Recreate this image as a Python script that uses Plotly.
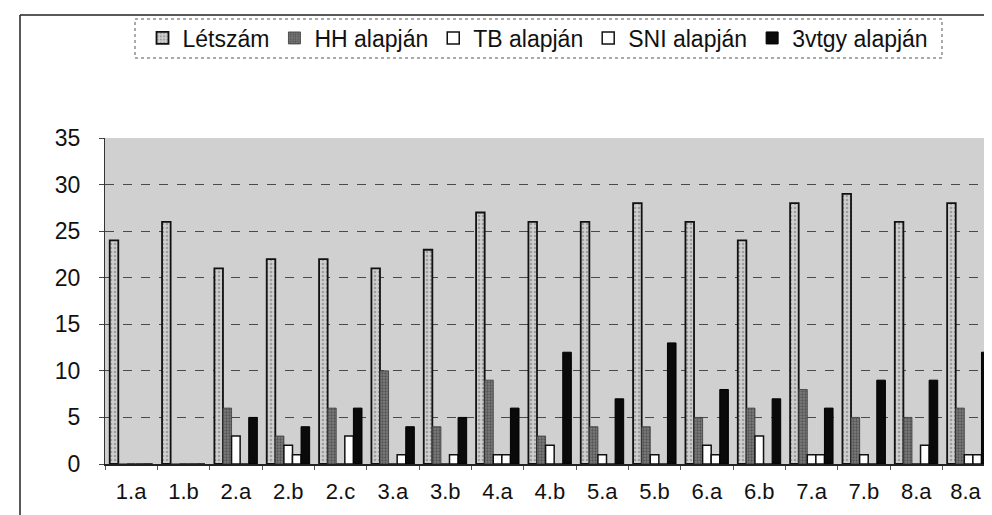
import plotly.graph_objects as go

categories = ["1.a", "1.b", "2.a", "2.b", "2.c", "3.a", "3.b", "4.a", "4.b",
              "5.a", "5.b", "6.a", "6.b", "7.a", "7.b", "8.a", "8.a "]
letszam = [24, 26, 21, 22, 22, 21, 23, 27, 26, 26, 28, 26, 24, 28, 29, 26, 28]
hh      = [0, 0, 6, 3, 6, 10, 4, 9, 3, 4, 4, 5, 6, 8, 5, 5, 6]
tb      = [0, 0, 3, 2, 0, 0, 0, 1, 2, 1, 1, 2, 3, 1, 1, 0, 1]
sni     = [0, 0, 0, 1, 3, 1, 1, 1, 0, 0, 0, 1, 0, 1, 0, 2, 1]
vtgy    = [0, 0, 5, 4, 6, 4, 5, 6, 12, 7, 13, 8, 7, 6, 9, 9, 12]
y_ticks = [0, 5, 10, 15, 20, 25, 30, 35]

FONT = "Liberation Sans, Arial, sans-serif"

fig = go.Figure()
fig.add_trace(go.Bar(name="Létszám", x=categories, y=letszam,
                     marker=dict(color="#bdbdbd", line=dict(color="#111111", width=1.8),
                                 pattern=dict(shape=".", fgcolor="#6f6f6f", bgcolor="#cfcfcf",
                                              size=4, solidity=0.35))))
fig.add_trace(go.Bar(name="HH alapján", x=categories, y=hh,
                     marker=dict(color="#5e5e5e", line=dict(color="#3a3a3a", width=0.8),
                                 pattern=dict(shape=".", fgcolor="#2a2a2a", bgcolor="#7c7c7c",
                                              size=3, solidity=0.45))))
fig.add_trace(go.Bar(name="TB alapján", x=categories, y=tb,
                     marker=dict(color="#ffffff", line=dict(color="#111111", width=1.5))))
fig.add_trace(go.Bar(name="SNI alapján", x=categories, y=sni,
                     marker=dict(color="#ffffff", line=dict(color="#111111", width=1.5))))
fig.add_trace(go.Bar(name="3vtgy alapján", x=categories, y=vtgy,
                     marker=dict(color="#0a0a0a", line=dict(color="#000000", width=1))))

W, H = 992, 515
L, R, T, B = 97, 0, 130, 59
pw, ph = W - L - R, H - T - B

def px_x(px):
    return (px - L) / pw

def px_y(py):
    return (H - B - py) / ph

shapes = [
    # outer chart frame (left and top edges; the rest is cropped)
    dict(type="line", xref="paper", yref="paper", x0=px_x(12), x1=px_x(12),
         y0=px_y(530), y1=px_y(7), line=dict(color="#222222", width=1.5)),
    dict(type="line", xref="paper", yref="paper", x0=px_x(12), x1=px_x(1000),
         y0=px_y(7), y1=px_y(7), line=dict(color="#222222", width=1.5)),
    # legend box
    dict(type="rect", xref="paper", yref="paper", x0=px_x(127), x1=px_x(934),
         y0=px_y(50), y1=px_y(11), line=dict(color="#555555", width=1, dash="dot")),
]

fig.update_layout(
    width=W, height=H,
    margin=dict(l=L, r=R, t=T, b=B),
    paper_bgcolor="#ffffff",
    plot_bgcolor="#d0d0d0",
    barmode="group", bargap=0.18, bargroupgap=0,
    font=dict(family=FONT, size=22, color="#111111"),
    showlegend=True,
    legend=dict(orientation="h", x=px_x(530), xanchor="center",
                y=px_y(30), yanchor="middle",
                font=dict(family=FONT, size=23, color="#111111"),
                bgcolor="rgba(0,0,0,0)", borderwidth=0,
                itemwidth=30, tracegroupgap=0),
    xaxis=dict(type="category", range=[-0.5, 16.6], showgrid=False,
               ticks="outside", tickson="boundaries", ticklen=4, tickcolor="#555555",
               showline=True, linecolor="#222222", linewidth=1.5,
               tickfont=dict(family=FONT, size=22, color="#111111"),
               ticklabelstandoff=7),
    yaxis=dict(range=[0, 35], tickvals=y_ticks, showgrid=True,
               gridcolor="#4a4a4a", gridwidth=1, griddash="dash",
               zeroline=False, showline=True, linecolor="#333333", linewidth=1,
               ticks="outside", ticklen=5, tickcolor="#444444",
               tickfont=dict(family=FONT, size=23, color="#111111"),
               ticklabelstandoff=14),
    shapes=shapes,
)

fig.write_html("out.html")
